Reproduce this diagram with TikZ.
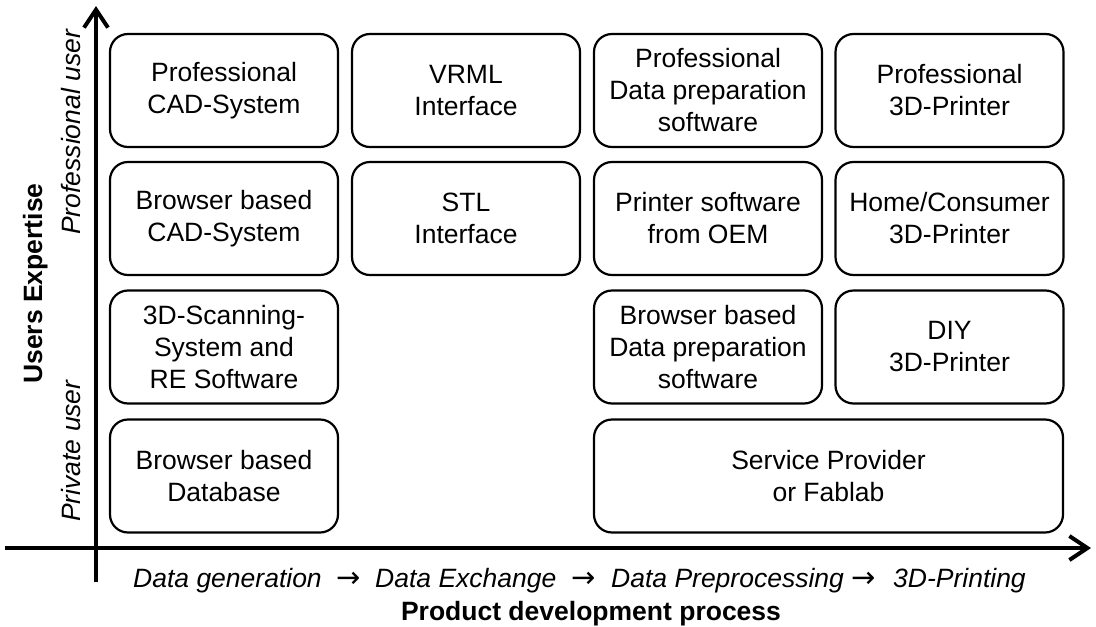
\documentclass[tikz,border=0pt]{standalone}
\usepackage{fontspec}
\setmainfont{Liberation Sans}
\newfontfamily\arrowfont{DejaVu Sans}
\usetikzlibrary{arrows.meta}
\begin{document}
\begin{tikzpicture}[x=1pt,y=-1pt,
  every node/.style={font=\fontsize{26.5}{32}\selectfont},
  box/.style={draw, line width=2.2pt, rounded corners=18pt, align=center, inner sep=0pt, minimum height=113pt},
  colbox/.style={box, minimum width=228pt},
  axis/.style={line width=4pt, -{Straight Barb[length=18pt,width=24pt,line width=4pt]}},
  lbl/.style={font=\fontsize{26.5}{32}\selectfont\itshape, inner sep=0pt},
  arr/.style={font=\fontsize{29}{32}\arrowfont, inner sep=0pt},
  blbl/.style={font=\fontsize{26.5}{32}\selectfont\bfseries, inner sep=0pt}]
\useasboundingbox (0,0) rectangle (1096,627);
% axes
\coordinate (yb) at (96,582);
\coordinate (yt) at (96,6);
\coordinate (xl) at (5,548);
\coordinate (xr) at (1091,548);
\draw[axis] (yb) -- (yt);
\draw[axis] (xl) -- (xr);
% row 1
\node[colbox] (pcad) at (224,90.5) {Professional\\CAD-System};
\node[colbox] (vrml) at (466,90.5) {VRML\\Interface};
\node[colbox] (pdp) at (708,90.5) {Professional\\Data preparation\\software};
\node[colbox] (p3d) at (949.5,90.5) {Professional\\3D-Printer};
% row 2
\node[colbox] (bcad) at (224,218.5) {Browser based\\CAD-System};
\node[colbox] (stl) at (466,218.5) {STL\\Interface};
\node[colbox] (oem) at (708,218.5) {Printer software\\from OEM};
\node[colbox] (h3d) at (949.5,218.5) {Home/Consumer\\3D-Printer};
% row 3
\node[colbox] (scan) at (224,347) {3D-Scanning-\\System and\\RE Software};
\node[colbox] (bdp) at (708,347) {Browser based\\Data preparation\\software};
\node[colbox] (diy) at (949.5,347) {DIY\\3D-Printer};
% row 4
\node[colbox] (bdb) at (224,476) {Browser based\\Database};
\node[box, minimum width=469pt] (svc) at (828.5,476) {Service Provider\\or Fablab};
% vertical labels
\node[blbl, rotate=90, anchor=base west] (ue) at (42,384) {Users Expertise};
\node[lbl, rotate=90, anchor=base west] (pro) at (80,235) {Professional user};
\node[lbl, rotate=90, anchor=base west] (pri) at (80,522) {Private user};
% horizontal labels
\node[lbl, anchor=base west] (dg) at (133,587) {Data generation};
\node[arr, anchor=base] (a1) at (349,587) {→};
\node[lbl, anchor=base west] (de) at (375,587) {Data Exchange};
\node[arr, anchor=base] (a2) at (583.5,587) {→};
\node[lbl, anchor=base west] (dp) at (611,587) {Data Preprocessing};
\node[arr, anchor=base] (a3) at (864,587) {→};
\node[lbl, anchor=base west] (pr) at (893,587) {3D-Printing};
\node[blbl, anchor=base] (pdpr) at (591,620) {Product development process};
\end{tikzpicture}
\end{document}
